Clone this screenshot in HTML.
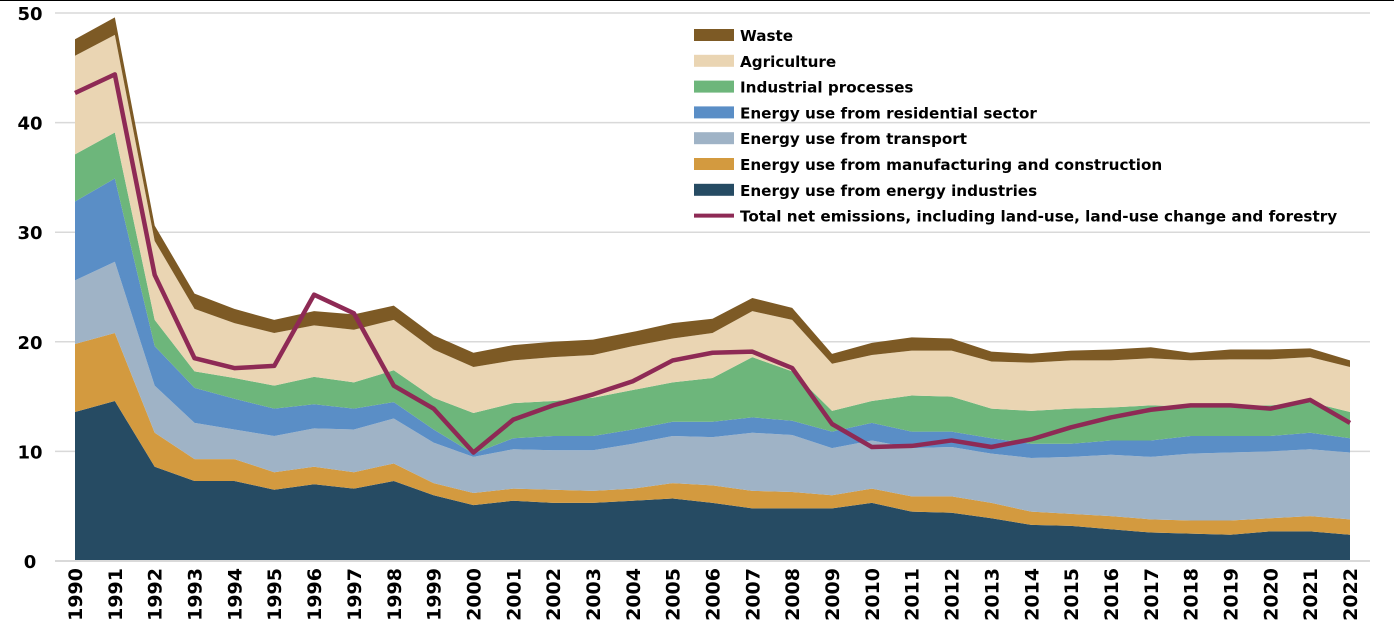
<!DOCTYPE html>
<html><head><meta charset="utf-8"><style>
html,body{margin:0;padding:0;background:#fff;}
svg{display:block;font-family:"DejaVu Sans",Verdana,sans-serif;}
</style></head><body>
<svg id="chart" width="1394" height="641" viewBox="0 0 1394 641" xmlns="http://www.w3.org/2000/svg">
<line x1="0" y1="0.5" x2="1394" y2="0.5" stroke="#000" stroke-width="1"/>
<g id="grid"></g><g id="areas"></g><g id="lines"></g><g id="axes"></g><g id="legend"></g>
</svg>
<script>
const years=[1990,1991,1992,1993,1994,1995,1996,1997,1998,1999,2000,2001,2002,2003,2004,2005,2006,2007,2008,2009,2010,2011,2012,2013,2014,2015,2016,2017,2018,2019,2020,2021,2022];
const energyIndustries=[13.6,14.6,8.6,7.3,7.3,6.5,7.0,6.6,7.3,6.0,5.1,5.5,5.3,5.3,5.5,5.7,5.3,4.8,4.8,4.8,5.3,4.5,4.4,3.9,3.3,3.2,2.9,2.6,2.5,2.4,2.7,2.7,2.4];
const manufacturing=[6.2,6.2,3.1,2.0,2.0,1.6,1.6,1.5,1.6,1.1,1.1,1.1,1.2,1.1,1.1,1.4,1.6,1.6,1.5,1.2,1.3,1.4,1.5,1.4,1.2,1.1,1.2,1.2,1.2,1.3,1.2,1.4,1.4];
const transport=[5.8,6.5,4.3,3.3,2.7,3.3,3.5,3.9,4.1,3.7,3.3,3.6,3.6,3.7,4.1,4.3,4.4,5.3,5.2,4.3,4.4,4.4,4.5,4.5,4.9,5.2,5.6,5.7,6.1,6.2,6.1,6.1,6.1];
const residential=[7.2,7.6,3.6,3.2,2.8,2.5,2.2,1.9,1.5,1.2,0.3,1.0,1.3,1.3,1.3,1.3,1.4,1.4,1.3,1.5,1.6,1.5,1.4,1.4,1.3,1.2,1.3,1.5,1.6,1.5,1.4,1.5,1.3];
const industrial=[4.3,4.2,2.4,1.5,1.9,2.1,2.5,2.4,2.9,2.9,3.7,3.2,3.2,3.5,3.6,3.6,4.0,5.5,4.5,1.9,2.0,3.3,3.2,2.7,3.0,3.2,3.0,3.2,2.7,2.7,2.8,2.8,2.4];
const agriculture=[9.0,8.9,7.2,5.7,5.0,4.8,4.7,4.8,4.6,4.4,4.2,3.9,4.0,3.9,4.0,4.0,4.1,4.2,4.7,4.3,4.2,4.1,4.2,4.3,4.4,4.4,4.3,4.3,4.2,4.3,4.2,4.1,4.1];
const waste=[1.5,1.6,1.4,1.4,1.3,1.2,1.3,1.4,1.3,1.3,1.3,1.4,1.4,1.4,1.3,1.4,1.3,1.2,1.1,0.9,1.1,1.2,1.1,0.9,0.8,0.9,1.0,1.0,0.7,0.9,0.9,0.8,0.6];
const netTotal=[42.7,44.4,26.1,18.5,17.6,17.8,24.3,22.6,16.0,13.9,9.9,12.9,14.2,15.2,16.4,18.3,19.0,19.1,17.6,12.5,10.4,10.5,11.0,10.4,11.1,12.2,13.1,13.8,14.2,14.2,13.9,14.7,12.6];
const yTicks=[0,10,20,30,40,50];

const NS="http://www.w3.org/2000/svg";
const X0=75,X1=1350,Y0=561,Y1=13,YMAX=50;
function xs(i){return X0+(X1-X0)*i/(years.length-1);}
function ys(v){return Y0-(Y0-Y1)*v/YMAX;}
function mk(tag,attrs,parent){const e=document.createElementNS(NS,tag);for(const k in attrs)e.setAttribute(k,attrs[k]);parent.appendChild(e);return e;}

const grid=document.getElementById('grid'),axes=document.getElementById('axes');
yTicks.forEach(t=>{
  const l=mk('line',{x1:55,x2:1370,y1:ys(t),y2:ys(t),stroke:'#d9d9d9','stroke-width':1.5},grid);
  
  
  const tx=mk('text',{x:30,y:ys(t)+7,'text-anchor':'middle','font-size':18,'font-weight':'bold',fill:'#000'},axes);
  tx.textContent=t;
  
  
});
years.forEach((yr,i)=>{
  const tx=mk('text',{transform:`translate(${xs(i)+7},${568}) rotate(-90)`,'text-anchor':'end','font-size':19,'font-weight':'bold',fill:'#000'},axes);
  tx.textContent=yr;
  
  
});

const series=[
 {name:'Energy use from energy industries',data:energyIndustries,color:'#264b63',key:'energy-industries'},
 {name:'Energy use from manufacturing and construction',data:manufacturing,color:'#d39a3f',key:'manufacturing'},
 {name:'Energy use from transport',data:transport,color:'#9fb3c6',key:'transport'},
 {name:'Energy use from residential sector',data:residential,color:'#5a8ec6',key:'residential'},
 {name:'Industrial processes',data:industrial,color:'#6db67b',key:'industrial'},
 {name:'Agriculture',data:agriculture,color:'#ead5b3',key:'agriculture'},
 {name:'Waste',data:waste,color:'#7d5a25',key:'waste'}
];
const areas=document.getElementById('areas');
let base=years.map(()=>0);
series.forEach(s=>{
  const top=base.map((b,i)=>b+s.data[i]);
  let d='M'+top.map((v,i)=>xs(i)+','+ys(v)).join(' L');
  for(let i=years.length-1;i>=0;i--)d+=' L'+xs(i)+','+ys(base[i]);
  d+='Z';
  const p=mk('path',{d:d,fill:s.color,stroke:'none'},areas);
  
  
  base=top;
});
const lines=document.getElementById('lines');
const lp=mk('path',{d:'M'+netTotal.map((v,i)=>xs(i)+','+ys(v)).join(' L'),fill:'none',stroke:'#8e2a55','stroke-width':4.5,'stroke-linejoin':'round'},lines);


const zl=mk('line',{x1:55,x2:1370,y1:Y0,y2:Y0,stroke:'#d9d9d9','stroke-width':2},axes);



const legend=document.getElementById('legend');
const legItems=series.slice().reverse().concat([{name:'Total net emissions, including land-use, land-use change and forestry',line:true,color:'#8e2a55',key:'net-emissions'}]);
legItems.forEach((s,k)=>{
  const y=35+k*25.8;
  const g=mk('g',{},legend);
  
  
  if(s.line) mk('line',{x1:694,x2:734,y1:y,y2:y,stroke:s.color,'stroke-width':4},g);
  else mk('rect',{x:694,y:y-6,width:40,height:12,fill:s.color},g);
  const t=mk('text',{x:740,y:y+6,'font-size':15.2,'font-weight':'bold',fill:'#000'},g);
  t.textContent=s.name;
});
</script>
</body></html>
